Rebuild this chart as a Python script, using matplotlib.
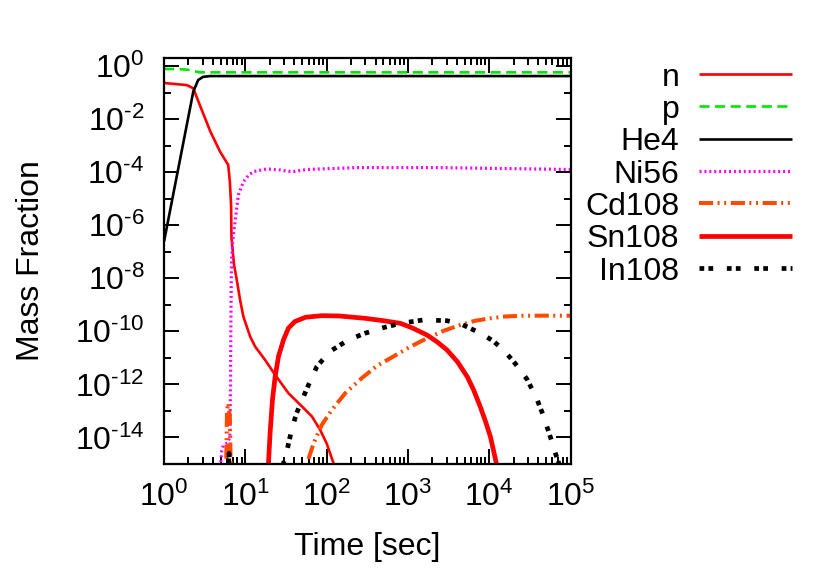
import numpy as np
import matplotlib
matplotlib.use("Agg")
import matplotlib.pyplot as plt
from matplotlib.ticker import FixedLocator, FuncFormatter, NullFormatter

plt.rcParams['font.family'] = ['Liberation Sans', 'DejaVu Sans']
plt.rcParams['mathtext.fontset'] = 'custom'
plt.rcParams['mathtext.rm'] = 'Liberation Sans'
plt.rcParams['mathtext.it'] = 'Liberation Sans:italic'
plt.rcParams['mathtext.bf'] = 'Liberation Sans:bold'

# ---- data (log10 of time [sec] and log10 of mass fraction) ----
n_logt = [0.0, 0.03, 0.28, 0.36, 0.44, 0.57, 0.69, 0.79, 0.81, 0.825, 0.83, 0.862, 0.895,
          0.936, 0.977, 1.06, 1.12, 1.244, 1.367, 1.53, 1.70, 1.82, 1.92, 2.0, 2.085]
n_logx = [-0.63, -0.65, -0.72, -0.84, -1.47, -2.47, -3.23, -3.73, -4.36, -5.24, -6.49, -7.5, -8.06,
          -8.82, -9.45, -10.2, -10.57, -11.08, -11.64, -12.33, -12.84, -13.21, -13.71, -14.22, -14.97]

p_logt = [0.0, 0.2, 0.32, 0.38, 0.44, 5.0]
p_logx = [-0.11, -0.12, -0.15, -0.2, -0.24, -0.24]

he4_logt = [0.0, 0.36, 0.42, 0.48, 0.57, 0.7, 5.0]
he4_logx = [-6.62, -0.97, -0.53, -0.41, -0.38, -0.38, -0.38]

ni56_logt = [0.69, 0.71, 0.73, 0.78, 0.81, 0.818, 0.822, 0.826, 0.83, 0.845, 0.874, 0.915,
             0.977, 1.04, 1.10, 1.265, 1.43, 1.51, 1.59, 1.76, 2.37, 3.4, 4.98, 5.0]
ni56_logx = [-15.3, -14.5, -14.3, -14.2, -14.0, -12.0, -10.0, -8.5, -7.37, -6.6, -5.87, -4.86,
             -4.36, -4.12, -3.98, -3.88, -3.92, -3.96, -3.98, -3.9, -3.83, -3.83, -3.9, -3.9]

cd108_logt = [0.76, 0.775, 0.79, 0.81, 0.825, np.nan, 1.74, 1.76, 1.84, 1.94, 2.065, 2.23, 2.43,
              2.62, 2.82, 3.03, 3.235, 3.44, 3.645, 3.83, 4.015, 4.2, 4.425, 5.0]
cd108_logx = [-16.0, -13.0, -12.7, -13.2, -16.0, np.nan, -16.0, -14.97, -14.22, -13.53, -12.96, -12.33, -11.77,
              -11.3, -10.95, -10.58, -10.26, -9.98, -9.76, -9.6, -9.51, -9.44, -9.41, -9.41]

sn108_logt = [1.28, 1.285, 1.305, 1.334, 1.367, 1.408, 1.47, 1.53, 1.61, 1.74, 1.94, 2.15, 2.475,
              2.7, 2.91, 3.06, 3.235, 3.36, 3.48, 3.61, 3.73, 3.81, 3.89, 3.955, 4.015, 4.09]
sn108_logx = [-15.5, -14.97, -13.84, -12.58, -11.71, -10.95, -10.32, -9.88, -9.63, -9.47, -9.41, -9.42, -9.51,
              -9.6, -9.70, -9.88, -10.14, -10.4, -10.70, -11.15, -11.71, -12.22, -12.84, -13.4, -13.97, -15.0]

in108_logt = [0.78, 0.80, 0.82, np.nan, 1.45, 1.47, 1.51, 1.57, 1.63, 1.76, 1.88, 2.04, 2.27, 2.475,
              2.7, 2.91, 3.19, 3.48, 3.65, 3.81, 3.95, 4.06, 4.19, 4.30, 4.39, 4.47, 4.53, 4.59,
              4.65, 4.71, 4.765, 4.815, 4.856, 4.9]
in108_logx = [-16.0, -14.6, -16.0, np.nan, -15.4, -14.97, -14.53, -13.71, -13.09, -12.14, -11.33, -10.76, -10.32,
              -10.07, -9.86, -9.70, -9.57, -9.60, -9.72, -9.95, -10.17, -10.39, -10.75, -11.14, -11.48, -11.83,
              -12.2, -12.58, -13.05, -13.59, -14.1, -14.6, -14.97, -15.5]

series_labels = ["n", "p", "He4", "Ni56", "Cd108", "Sn108", "In108"]
x_ticks_exp = [0, 1, 2, 3, 4, 5]
y_major_exp = [0, -2, -4, -6, -8, -10, -12, -14]
y_minor_exp = [-1, -3, -5, -7, -9, -11, -13, -15]

# ---- figure ----
fig = plt.figure(figsize=(8.30, 5.81), dpi=100)
ax = fig.add_axes([164 / 830, 1 - 464 / 581, 406.5 / 830, 406 / 581])

def pw(a):
    return 10.0 ** np.asarray(a, dtype=float)

def pow_label(v, pos=None):
    e = int(round(np.log10(v)))
    s = str(e).replace('-', '\u2010')
    return r'$\mathregular{10^{%s}}$' % s

FS = 23
styles = [
    dict(color='#ff0000', lw=1.9, ls='-'),
    dict(color='#00e600', lw=1.9, ls=(0, (3.8, 2.1))),
    dict(color='#000000', lw=1.9, ls='-'),
    dict(color='#ff00ff', lw=2.3, ls=(0, (0.62, 0.92))),
    dict(color='#ff4a00', lw=2.9, ls=(0, (3.5, 1.1, 0.5, 1.15, 0.5, 1.15))),
    dict(color='#ff0000', lw=3.4, ls='-'),
    dict(color='#000000', lw=3.4, ls=(0, (1.0, 0.9, 1.0, 2.9))),
]
data = [(n_logt, n_logx), (p_logt, p_logx), (he4_logt, he4_logx), (ni56_logt, ni56_logx),
        (cd108_logt, cd108_logx), (sn108_logt, sn108_logx), (in108_logt, in108_logx)]

for (t, x), lab, st in zip(data, series_labels, styles):
    ax.plot(pw(t), pw(x), label=lab, color=st['color'], lw=st['lw'], ls=st['ls'],
            dash_capstyle='butt', solid_capstyle='butt', solid_joinstyle='round')

ax.set_xscale('log')
ax.set_yscale('log')
ax.set_xlim(1, 1e5)
ax.set_ylim(1e-15, 2.0)

ax.xaxis.set_major_locator(FixedLocator(pw(x_ticks_exp)))
ax.xaxis.set_minor_locator(FixedLocator([m * 10.0 ** e for e in x_ticks_exp[:-1] for m in range(2, 10)]))
ax.yaxis.set_major_locator(FixedLocator(pw(y_major_exp)))
ax.yaxis.set_minor_locator(FixedLocator(pw(y_minor_exp)))
ax.xaxis.set_major_formatter(FuncFormatter(pow_label))
ax.yaxis.set_major_formatter(FuncFormatter(pow_label))
ax.xaxis.set_minor_formatter(NullFormatter())
ax.yaxis.set_minor_formatter(NullFormatter())

ax.tick_params(which='both', direction='in', top=True, right=True, width=1.4, colors='black')
ax.tick_params(which='major', length=10.5)
ax.tick_params(which='minor', length=5.0)
ax.tick_params(axis='x', which='major', labelsize=FS, pad=13)
ax.tick_params(axis='y', which='major', labelsize=FS, pad=14)
for s in ax.spines.values():
    s.set_linewidth(1.6)

ax.set_xlabel("Time [sec]", fontsize=FS)
ax.set_ylabel("Mass Fraction", fontsize=FS)
ax.xaxis.set_label_coords(0.5, -0.168)
ax.yaxis.set_label_coords(-0.29, 0.5)

leg = ax.legend(loc='upper right', bbox_to_anchor=(792 / 830, 1 - 62.5 / 581),
                bbox_transform=fig.transFigure, frameon=False, markerfirst=False,
                fontsize=FS, handlelength=2.9, handletextpad=0.63, labelspacing=0.062,
                borderpad=0, borderaxespad=0, handleheight=0.8)

fig.savefig("out.png", dpi=100)
